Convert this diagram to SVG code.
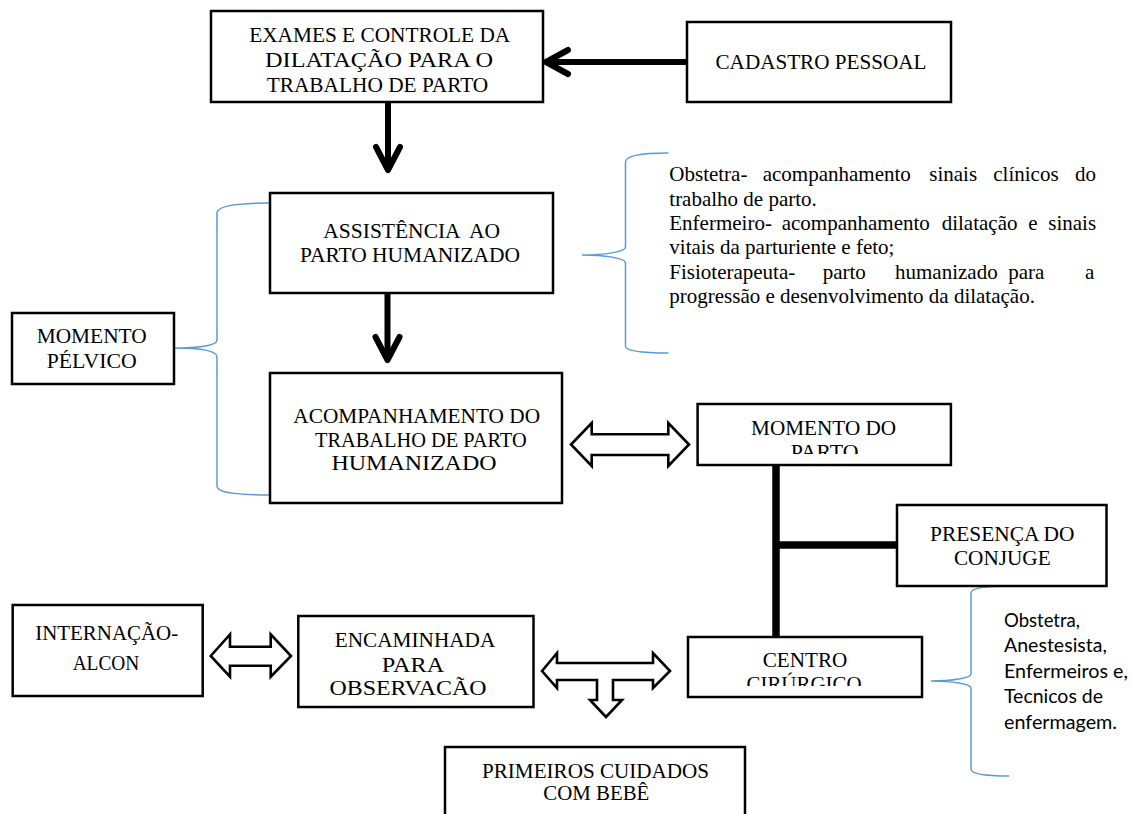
<svg xmlns="http://www.w3.org/2000/svg" width="1131" height="814" viewBox="0 0 1131 814">
<style>
  .box { fill: #fff; stroke: #000; stroke-width: 2.5; }
  .t { font-family: "Liberation Serif", "Times New Roman", serif; font-size: 21px; text-anchor: middle; fill: #000; }
  .p { font-family: "Liberation Serif", "Times New Roman", serif; font-size: 21px; fill: #000; }
  .s { font-family: Lato, "Noto Sans", sans-serif; font-size: 18.5px; fill: #000; }
  .shaft { stroke: #000; stroke-width: 6; fill: none; }
  .head { stroke: #000; stroke-width: 6; fill: none; stroke-linecap: round; stroke-linejoin: round; }
  .thick { stroke: #000; stroke-width: 7.5; fill: none; }
  .hollow { fill: #fff; stroke: #000; stroke-width: 2.6; stroke-linejoin: miter; }
  .brace { fill: none; stroke: #5B9BD5; stroke-width: 1.5; }
</style>
<defs>
  <clipPath id="clipMP"><rect x="680" y="405" width="270" height="49"/></clipPath>
  <clipPath id="clipCC"><rect x="690" y="638" width="230" height="48"/></clipPath>
</defs>
<rect width="1131" height="814" fill="#fff"/>

<g id="connectors">
  <path class="shaft" d="M687,62 H548"/>
  <path class="head" d="M568,50 L546,62 L568,74"/>
  <path class="shaft" d="M388,102 V168"/>
  <path class="head" d="M376,147 L388,170 L400,147"/>
  <path class="shaft" d="M387.5,293 V359"/>
  <path class="head" d="M375.5,337 L387.5,360 L399.5,337"/>
  <path class="hollow" d="M571,444.5 L591.7,423 L591.7,434.3 L668.3,434.3 L668.3,423 L689,444.5 L668.3,466 L668.3,455 L591.7,455 L591.7,466 Z"/>
  <path class="thick" d="M776,465 V637"/>
  <path class="thick" d="M776,545 H897"/>
  <path class="hollow" d="M210.7,656 L230,634.3 L230,646.7 L270.7,646.7 L270.7,634.3 L291,656 L270.7,676.7 L270.7,665.7 L230,665.7 L230,676.7 Z"/>
  <path class="hollow" d="M542,671 L557,653 L557,663 L653,663 L653,653 L670,671 L653,688 L653,680 L613,680 L613,700 L622,700 L606,717 L590,700 L597,700 L597,680 L557,680 L557,688 Z"/>
  <path class="brace" d="M270,203 C238,203 217,206 217,213 L217,340 C217,346 196,348 174,348 C196,348 217,350 217,357 L217,486 C217,493 238,495 270,495"/>
  <path class="brace" d="M668.5,153 C642,153 625.5,156 625.5,162 L625.5,247 C625.5,252 604,255 582,255 C604,255 625.5,258 625.5,263 L625.5,346 C625.5,351 642,353 668.5,353"/>
  <path class="brace" d="M1009,586 C985,586 971,588 971,593 L971,674 C971,678 952,681 931,681 C952,681 971,684 971,688 L971,769 C971,774 985,776 1009,776"/>
</g>

<g id="exames">
  <rect class="box" x="211" y="11" width="332" height="91"/>
  <text class="t" x="379.7" y="42" textLength="261" lengthAdjust="spacingAndGlyphs">EXAMES E CONTROLE DA</text>
  <text class="t" x="379" y="67" textLength="228" lengthAdjust="spacingAndGlyphs">DILATAÇÃO PARA O</text>
  <text class="t" x="377.5" y="92" textLength="221.6" lengthAdjust="spacingAndGlyphs">TRABALHO DE PARTO</text>
</g>

<g id="cadastro">
  <rect class="box" x="687" y="22" width="264" height="80"/>
  <text class="t" x="821" y="69" textLength="211" lengthAdjust="spacingAndGlyphs">CADASTRO PESSOAL</text>
</g>

<g id="assistencia">
  <rect class="box" x="270" y="193" width="283" height="100"/>
  <text class="t" x="411.7" y="238" style="white-space:pre" textLength="176.7" lengthAdjust="spacingAndGlyphs">ASSISTÊNCIA  AO</text>
  <text class="t" x="410" y="262" textLength="220" lengthAdjust="spacingAndGlyphs">PARTO HUMANIZADO</text>
</g>

<g id="acompanhamento">
  <rect class="box" x="270" y="373" width="292" height="130"/>
  <text class="t" x="416.7" y="423" textLength="246.7" lengthAdjust="spacingAndGlyphs">ACOMPANHAMENTO DO</text>
  <text class="t" x="420.8" y="447" textLength="211.7" lengthAdjust="spacingAndGlyphs">TRABALHO DE PARTO</text>
  <text class="t" x="414" y="470" textLength="165" lengthAdjust="spacingAndGlyphs">HUMANIZADO</text>
</g>

<g id="momento-pelvico">
  <rect class="box" x="12" y="313" width="162" height="71"/>
  <text class="t" x="91.7" y="343" textLength="110" lengthAdjust="spacingAndGlyphs">MOMENTO</text>
  <text class="t" x="91.7" y="368" textLength="90" lengthAdjust="spacingAndGlyphs">PÉLVICO</text>
</g>

<g id="obstetra-texto">
  <text class="p" y="181"><tspan x="669.3">Obstetra-</tspan><tspan x="762.7">acompanhamento</tspan><tspan x="929.3">sinais</tspan><tspan x="993.3">clínicos</tspan><tspan x="1075">do</tspan></text>
  <text class="p" x="669.3" y="205.5">trabalho de parto.</text>
  <text class="p" y="230"><tspan x="669.3">Enfermeiro-</tspan><tspan x="781.7">acompanhamento</tspan><tspan x="941.7">dilatação</tspan><tspan x="1028.3">e</tspan><tspan x="1048.3">sinais</tspan></text>
  <text class="p" x="669.3" y="254">vitais da parturiente e feto;</text>
  <text class="p" y="278.5"><tspan x="669.3">Fisioterapeuta-</tspan><tspan x="822.7">parto</tspan><tspan x="895">humanizado</tspan><tspan x="1008.3">para</tspan><tspan x="1085">a</tspan></text>
  <text class="p" x="669.3" y="303">progressão e desenvolvimento da dilatação.</text>
</g>

<g id="momento-parto">
  <rect class="box" x="697.6" y="404" width="253.3" height="61"/>
  <text class="t" x="823.6" y="435" textLength="145" lengthAdjust="spacingAndGlyphs">MOMENTO DO</text>
  <g clip-path="url(#clipMP)">
    <text class="t" x="824.6" y="459" textLength="67.8" lengthAdjust="spacingAndGlyphs">PARTO</text>
  </g>
</g>

<g id="presenca">
  <rect class="box" x="897" y="505" width="209.5" height="81"/>
  <text class="t" x="1002.3" y="541" textLength="144.4" lengthAdjust="spacingAndGlyphs">PRESENÇA DO</text>
  <text class="t" x="1002.3" y="565" textLength="96.8" lengthAdjust="spacingAndGlyphs">CONJUGE</text>
</g>

<g id="equipe-texto">
  <text class="s" x="1004" y="627" textLength="76" lengthAdjust="spacingAndGlyphs">Obstetra,</text>
  <text class="s" x="1004" y="652" textLength="103" lengthAdjust="spacingAndGlyphs">Anestesista,</text>
  <text class="s" x="1004" y="677.5" textLength="124" lengthAdjust="spacingAndGlyphs">Enfermeiros e,</text>
  <text class="s" x="1004" y="703" textLength="99" lengthAdjust="spacingAndGlyphs">Tecnicos de</text>
  <text class="s" x="1004" y="729" textLength="113" lengthAdjust="spacingAndGlyphs">enfermagem.</text>
</g>

<g id="centro">
  <rect class="box" x="688" y="637" width="234" height="60"/>
  <text class="t" x="805" y="667" textLength="84.7" lengthAdjust="spacingAndGlyphs">CENTRO</text>
  <g clip-path="url(#clipCC)">
    <text class="t" x="804" y="691" textLength="115" lengthAdjust="spacingAndGlyphs">CIRÚRGICO</text>
  </g>
</g>

<g id="internacao">
  <rect class="box" x="12.7" y="605" width="190" height="91"/>
  <text class="t" x="106.7" y="640" textLength="143" lengthAdjust="spacingAndGlyphs">INTERNAÇÃO-</text>
  <text class="t" x="106" y="670" textLength="66.7" lengthAdjust="spacingAndGlyphs">ALCON</text>
</g>

<g id="encaminhada">
  <rect class="box" x="298.3" y="616" width="235.2" height="91"/>
  <text class="t" x="415" y="647" textLength="160.7" lengthAdjust="spacingAndGlyphs">ENCAMINHADA</text>
  <text class="t" x="413" y="672" textLength="62.5" lengthAdjust="spacingAndGlyphs">PARA</text>
  <text class="t" x="408" y="695" textLength="157" lengthAdjust="spacingAndGlyphs">OBSERVACÃO</text>
</g>

<g id="primeiros">
  <path class="box" d="M445,816 V747 H745 V816"/>
  <text class="t" x="595.5" y="778" textLength="227" lengthAdjust="spacingAndGlyphs">PRIMEIROS CUIDADOS</text>
  <text class="t" x="596.3" y="800" textLength="106" lengthAdjust="spacingAndGlyphs">COM BEBÊ</text>
</g>
</svg>
